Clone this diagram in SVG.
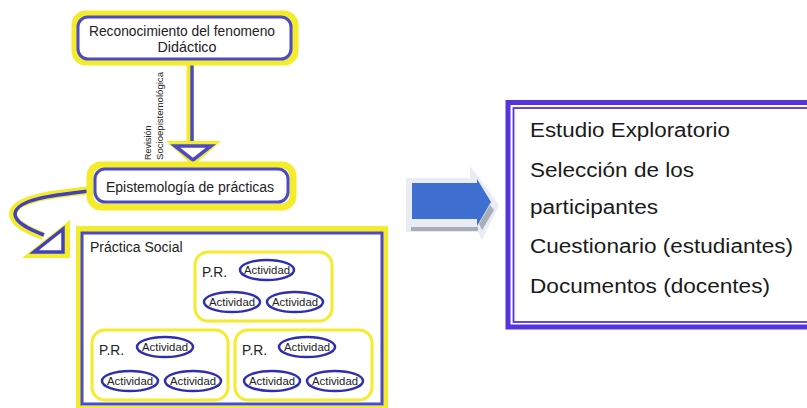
<svg xmlns="http://www.w3.org/2000/svg" width="807" height="408" viewBox="0 0 807 408">
<style>
text{font-family:"Liberation Sans",Arial,sans-serif;fill:#222}
.yb{fill:none;stroke:#f4ec2a;stroke-width:7}
.bb{fill:#fff;stroke:#4b4bc8;stroke-width:3}
.grp{fill:#fff;stroke:#f4ec2a;stroke-width:3}
.act{fill:#fff;stroke:#2e2eb0;stroke-width:2.5}
.at{font-size:11.5px;text-anchor:middle}
.pr{font-size:15px}
.rt{font-size:19.5px;fill:#1a1a1a}
</style>
<rect width="807" height="408" fill="#fff"/>
<g id="connectors">
  <line x1="190" y1="62" x2="190" y2="143" stroke="#f4ec2a" stroke-width="7"/>
  <line x1="192" y1="62" x2="192" y2="143" stroke="#4b4bc8" stroke-width="3.5"/>
  <polygon points="166,141 221,141 193,166" fill="#f4ec2a"/>
  <polygon points="175,146 211,146 193,160" fill="#fff" stroke="#4b4bc8" stroke-width="3.5" stroke-linejoin="miter"/>
  <path d="M92 190 C55 194 14 198 13 214 C13 224 30 231 43 236" fill="none" stroke="#f4ec2a" stroke-width="8"/>
  <path d="M90 191 C55 195 16 199 15 214 C15 223 31 230 44 235" fill="none" stroke="#4040c0" stroke-width="3.5"/>
  <polygon points="70,220 70,258 22,258" fill="#f4ec2a"/>
  <polygon points="63,229 63,252 34,252" fill="#fff" stroke="#4040c0" stroke-width="3.5"/>
  <text transform="translate(151,160) rotate(-90)" style="font-size:9px">Revisión</text>
  <text transform="translate(163,160) rotate(-90)" style="font-size:9.5px" textLength="88" lengthAdjust="spacingAndGlyphs">Socioepistemológica</text>
</g>
<g id="n-reconocimiento">
  <rect x="75" y="14" width="220" height="48" rx="11" class="yb"/>
  <rect x="78" y="17" width="213" height="42" rx="10" class="bb"/>
  <text x="182" y="36" text-anchor="middle" style="font-size:15px" textLength="186" lengthAdjust="spacingAndGlyphs">Reconocimiento del fenomeno</text>
  <text x="187" y="52" text-anchor="middle" style="font-size:15px" textLength="59" lengthAdjust="spacingAndGlyphs">Didáctico</text>
</g>
<g id="n-epistemologia">
  <rect x="90" y="165" width="203" height="42" rx="11" class="yb"/>
  <rect x="95" y="169" width="193" height="33" rx="10" class="bb"/>
  <text x="190" y="192" text-anchor="middle" style="font-size:14px">Epistemología de prácticas</text>
</g>
<g id="n-practica-social">
  <rect x="79" y="229" width="306" height="180" class="yb" style="stroke-width:6"/>
  <rect x="82" y="233" width="300" height="171" class="bb"/>
  <text x="90" y="252" style="font-size:14px">Práctica Social</text>
</g>
<g id="n-pr1">
  <rect x="195" y="252" width="137" height="69" rx="13" class="grp"/>
  <text x="202" y="277" class="pr" textLength="25" lengthAdjust="spacingAndGlyphs">P.R.</text>
  <ellipse cx="267" cy="270" rx="27" ry="10" class="act"/>
  <text x="267" y="274" class="at" textLength="46" lengthAdjust="spacingAndGlyphs">Actividad</text>
  <ellipse cx="232" cy="302" rx="28" ry="10" class="act"/>
  <text x="232" y="306" class="at" textLength="46" lengthAdjust="spacingAndGlyphs">Actividad</text>
  <ellipse cx="295" cy="302" rx="28" ry="10" class="act"/>
  <text x="295" y="306" class="at" textLength="46" lengthAdjust="spacingAndGlyphs">Actividad</text>
</g>
<g id="n-pr2">
  <rect x="92" y="330" width="136" height="70" rx="13" class="grp"/>
  <text x="99" y="355" class="pr" textLength="25" lengthAdjust="spacingAndGlyphs">P.R.</text>
  <ellipse cx="165" cy="347" rx="28" ry="10" class="act"/>
  <text x="165" y="351" class="at" textLength="46" lengthAdjust="spacingAndGlyphs">Actividad</text>
  <ellipse cx="130" cy="381" rx="28" ry="10" class="act"/>
  <text x="130" y="385" class="at" textLength="46" lengthAdjust="spacingAndGlyphs">Actividad</text>
  <ellipse cx="193" cy="381" rx="28" ry="10" class="act"/>
  <text x="193" y="385" class="at" textLength="46" lengthAdjust="spacingAndGlyphs">Actividad</text>
</g>
<g id="n-pr3">
  <rect x="235" y="330" width="137" height="70" rx="13" class="grp"/>
  <text x="242" y="355" class="pr" textLength="25" lengthAdjust="spacingAndGlyphs">P.R.</text>
  <ellipse cx="307" cy="347" rx="28" ry="10" class="act"/>
  <text x="307" y="351" class="at" textLength="46" lengthAdjust="spacingAndGlyphs">Actividad</text>
  <ellipse cx="272" cy="381" rx="28" ry="10" class="act"/>
  <text x="272" y="385" class="at" textLength="46" lengthAdjust="spacingAndGlyphs">Actividad</text>
  <ellipse cx="335" cy="381" rx="28" ry="10" class="act"/>
  <text x="335" y="385" class="at" textLength="46" lengthAdjust="spacingAndGlyphs">Actividad</text>
</g>
<g id="n-arrow">
  <polygon points="406,178 470,178 470,166 499,205 482,240 478,232 406,232" fill="#e9ecf2"/>
  <rect x="411" y="227" width="67" height="4" fill="#a8adb8"/>
  <polygon points="479,224 490,205 494,210 482,230" fill="#a8adb8"/>
  <polygon points="412,183 477,183 477,179 491,202 477,226 477,219 412,219" fill="#3f6fd0"/>
</g>
<g id="n-metodologia">
  <rect x="508" y="102.5" width="310" height="224.5" fill="#fff" stroke="#5533dd" stroke-width="5"/>
  <rect x="513.5" y="108" width="300" height="214" fill="none" stroke="#5533dd" stroke-width="1.8"/>
  <text x="530" y="137" class="rt" textLength="200" lengthAdjust="spacingAndGlyphs">Estudio Exploratorio</text>
  <text x="530" y="177" class="rt" textLength="164" lengthAdjust="spacingAndGlyphs">Selección de los</text>
  <text x="530" y="214" class="rt" textLength="128" lengthAdjust="spacingAndGlyphs">participantes</text>
  <text x="530" y="253" class="rt" textLength="263" lengthAdjust="spacingAndGlyphs">Cuestionario (estudiantes)</text>
  <text x="530" y="293" class="rt" textLength="240" lengthAdjust="spacingAndGlyphs">Documentos (docentes)</text>
</g>
</svg>
